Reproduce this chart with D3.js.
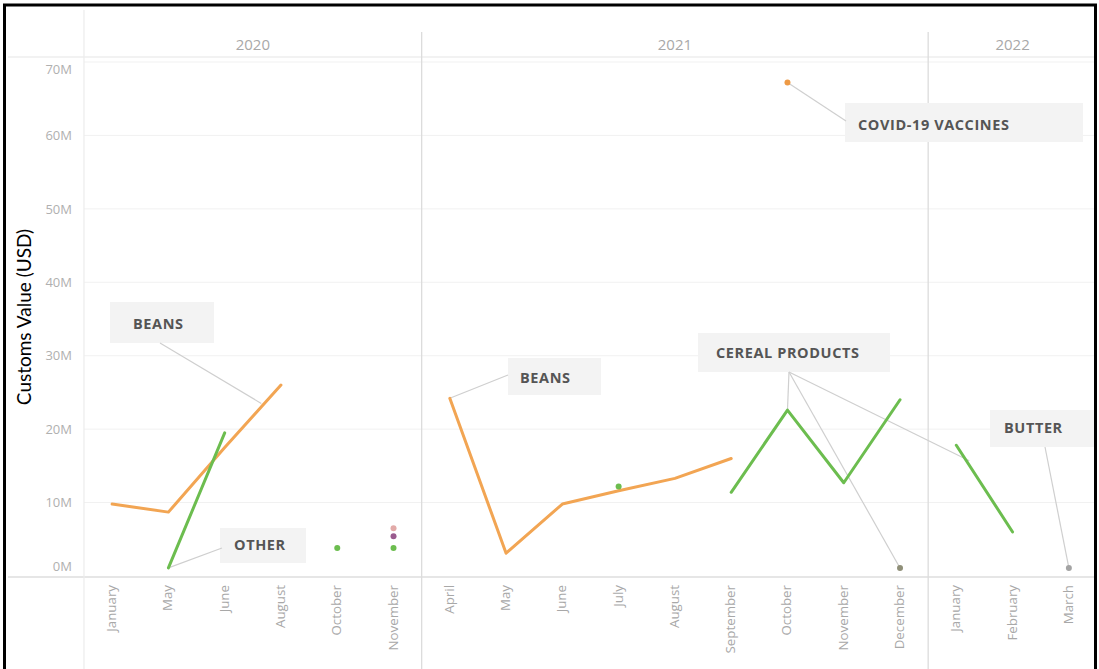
<!DOCTYPE html>
<html>
<head>
<meta charset="utf-8">
<script src="https://cdn.jsdelivr.net/npm/d3@7"></script>
<style>
  html, body { margin: 0; padding: 0; background: #fff; }
  svg { display: block; }
</style>
</head>
<body>
<svg id="chart" width="1099" height="669"></svg>
<script>
// ---------------- DATA ----------------
const years = ["2020", "2021", "2022"];
const months = ["January", "May", "June", "August", "October", "November",
  "April", "May", "June", "July", "August", "September", "October", "November", "December",
  "January", "February", "March"];
const monthYear = ["2020", "2020", "2020", "2020", "2020", "2020",
  "2021", "2021", "2021", "2021", "2021", "2021", "2021", "2021", "2021",
  "2022", "2022", "2022"];
const yTicks = [0, 10, 20, 30, 40, 50, 60, 70]; // millions USD

// line series (millions USD), aligned with months; null = no value
const beansValues = [9.8, 8.7, 17.5, 26.0, null, null,
  24.2, 3.1, 9.8, 11.6, 13.3, 16.0, null, null, null,
  null, null, null];
const greenValues = [null, 1.1, 19.5, null, null, null,
  null, null, null, null, null, 11.4, 22.6, 12.7, 24.0,
  17.8, 6.0, null];

// single points: [month index, value (M), series]
const pointIdx = [4, 5, 5, 5, 9, 12, 14, 17];
const pointVal = [3.8, 3.8, 5.4, 6.5, 12.2, 67.2, 1.1, 1.1];
const pointSeries = ["other", "other", "purple", "pink", "other", "vaccine", "grey", "butter"];

// annotations: label, target (month index, value) lists
const annoLabels = ["BEANS", "OTHER", "BEANS", "COVID-19 VACCINES", "CEREAL PRODUCTS", "BUTTER"];
const annoTargets = [
  [[2.65, 23.5]],
  [[1, 1.1]],
  [[6, 24.2]],
  [[12, 67.2]],
  [[12, 22.6], [14, 1.1], [15.23, 15.7]],
  [[17, 1.1]]
];

// ---------------- LAYOUT / STYLE ----------------
const W = 1099, H = 669;
const plotLeft = 84, plotRight = 1097, plotTop = 57, zeroY = 576;
const colors = {
  beans: "#f2a553", green: "#6cbd4f", other: "#6cbd4f", purple: "#9a5b8e",
  pink: "#e2aaa8", vaccine: "#ee9a45", grey: "#8f8f78", butter: "#a3a3a3"
};
// annotation box geometry (pixels): box, text start (tx, ty), line start (sx, sy)
const annoBoxes = [
  { x: 110, y: 302, w: 104, h: 41, tx: 133, ty: 324, sx: 160, sy: 343 },
  { x: 220, y: 528, w: 86, h: 35, tx: 234, ty: 545, sx: 222, sy: 548 },
  { x: 508, y: 358, w: 93, h: 37, tx: 520, ty: 378, sx: 508, sy: 375 },
  { x: 845, y: 103, w: 238, h: 39, tx: 858, ty: 125, sx: 846, sy: 121 },
  { x: 698, y: 333, w: 192, h: 39, tx: 716, ty: 353, sx: 789, sy: 372 },
  { x: 990, y: 410, w: 104, h: 37, tx: 1004, ty: 428, sx: 1045, sy: 447 }
];

const svg = d3.select("#chart");

const x = d3.scaleBand().domain(d3.range(months.length)).range([plotLeft, plotRight]);
const xc = f => plotLeft + x.step() * (f + 0.5);
const y = d3.scaleLinear().domain([0, 70]).range([zeroY, 62]);

// gridlines
svg.append("g").selectAll("line").data(yTicks.filter(d => d > 0)).join("line")
  .attr("x1", plotLeft).attr("x2", plotRight)
  .attr("y1", d => y(d)).attr("y2", d => y(d))
  .attr("stroke", "#f1f1f1").attr("stroke-width", 1);

// header line and zero line
svg.append("line").attr("x1", 8).attr("x2", plotRight).attr("y1", plotTop).attr("y2", plotTop)
  .attr("stroke", "#e6e6e6").attr("stroke-width", 1.2);
svg.append("line").attr("x1", 8).attr("x2", plotRight).attr("y1", zeroY + 1).attr("y2", zeroY + 1)
  .attr("stroke", "#dedede").attr("stroke-width", 1.5);

// vertical pane lines
svg.append("line").attr("x1", plotLeft).attr("x2", plotLeft).attr("y1", 10).attr("y2", H)
  .attr("stroke", "#ececec").attr("stroke-width", 1.2);
const paneBounds = [];
years.forEach(yr => {
  const idx = monthYear.map((m, i) => m === yr ? i : -1).filter(i => i >= 0);
  paneBounds.push({ year: yr, x0: x(idx[0]), x1: x(idx[idx.length - 1]) + x.bandwidth(), idx });
});
paneBounds.slice(1).forEach(p => {
  svg.append("line").attr("x1", p.x0).attr("x2", p.x0).attr("y1", 32).attr("y2", H)
    .attr("stroke", "#dcdcdc").attr("stroke-width", 1.3);
});

// year headers
svg.append("g").selectAll("text").data(paneBounds).join("text")
  .attr("x", d => (d.x0 + d.x1) / 2).attr("y", 50)
  .attr("text-anchor", "middle")
  .attr("font-family", "Open Sans, sans-serif").attr("font-size", 15)
  .attr("fill", "#a8a8a8")
  .text(d => d.year);

// y axis labels
const yAxis = d3.axisLeft(y).tickValues(yTicks).tickFormat(d => d + "M").tickSize(0).tickPadding(0);
const yg = svg.append("g").attr("transform", `translate(72,0)`).call(yAxis);
yg.select(".domain").remove();
yg.selectAll("text")
  .attr("font-family", "Open Sans, sans-serif").attr("font-size", 13)
  .attr("fill", "#b0b0b0")
  .attr("dy", d => d === 0 ? "-0.45em" : d === 70 ? "0.85em" : "0.32em");

// x axis month labels
const xg = svg.append("g");
xg.selectAll("text").data(months).join("text")
  .attr("transform", (d, i) => `translate(${xc(i) + 4},585) rotate(-90)`)
  .attr("text-anchor", "end")
  .attr("font-family", "Open Sans, sans-serif").attr("font-size", 13.3)
  .attr("fill", "#a8a8a8")
  .text(d => d);

// annotation boxes (drawn under marks), lines
const annoG = svg.append("g");
annoLabels.forEach((lab, k) => {
  const b = annoBoxes[k];
  annoG.append("rect").attr("x", b.x).attr("y", b.y).attr("width", b.w).attr("height", b.h)
    .attr("fill", "#f3f3f3");
  annoTargets[k].forEach(t => {
    annoG.append("line").attr("x1", b.sx).attr("y1", b.sy)
      .attr("x2", xc(t[0])).attr("y2", y(t[1]))
      .attr("stroke", "#cfcfcf").attr("stroke-width", 1.2);
  });
});

// lines per pane
const line = d3.line().defined(d => d.v !== null).x(d => xc(d.i)).y(d => y(d.v));
function drawSeries(values, color) {
  paneBounds.forEach(p => {
    const pts = p.idx.map(i => ({ i, v: values[i] }));
    svg.append("path").datum(pts).attr("d", line)
      .attr("fill", "none").attr("stroke", color).attr("stroke-width", 3)
      .attr("stroke-linejoin", "round").attr("stroke-linecap", "round");
  });
}
drawSeries(beansValues, colors.beans);
drawSeries(greenValues, colors.green);

// points
svg.append("g").selectAll("circle").data(pointIdx).join("circle")
  .attr("cx", d => xc(d)).attr("cy", (d, i) => y(pointVal[i]))
  .attr("r", 3)
  .attr("fill", (d, i) => colors[pointSeries[i]]);

// annotation labels
annoLabels.forEach((lab, k) => {
  const b = annoBoxes[k];
  svg.append("text").attr("x", b.tx).attr("y", b.ty)
    .attr("dy", "0.36em").attr("text-anchor", "start")
    .attr("font-family", "Open Sans, sans-serif").attr("font-weight", 700)
    .attr("font-size", 14.5).attr("letter-spacing", "0.6px")
    .attr("fill", "#555")
    .text(lab);
});

// y title
svg.append("text")
  .attr("transform", "translate(31,317) rotate(-90)")
  .attr("text-anchor", "middle")
  .attr("font-family", "Lato, sans-serif").attr("font-size", 19)
  .attr("fill", "#000")
  .text("Customs Value (USD)");

// outer black border
svg.append("rect").attr("x", 4.5).attr("y", 5).attr("width", 1091).attr("height", 700)
  .attr("fill", "none").attr("stroke", "#000").attr("stroke-width", 3);
</script>
</body>
</html>
